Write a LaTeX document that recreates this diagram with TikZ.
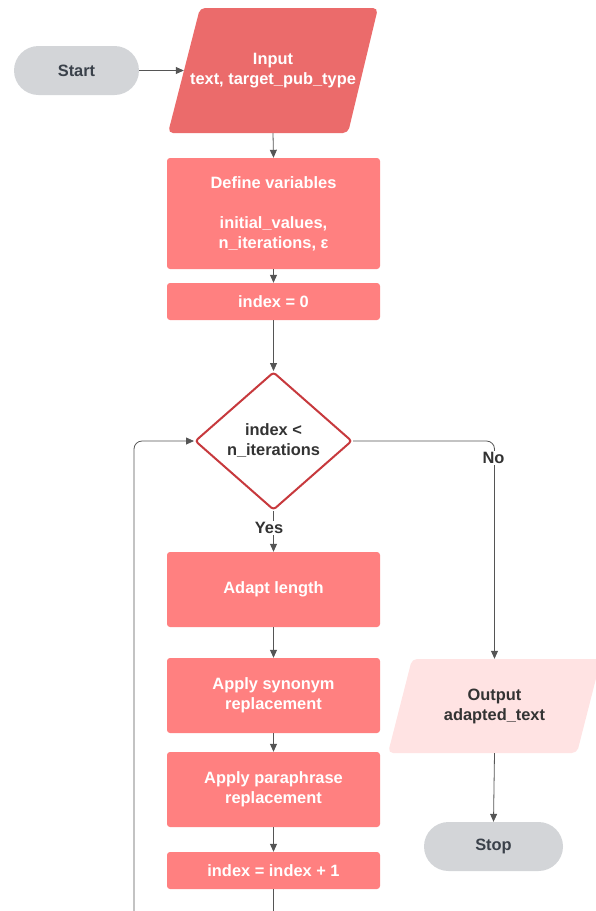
\documentclass[tikz,border=0pt]{standalone}
\usepackage{fontspec}
\setmainfont{Liberation Sans}
\usetikzlibrary{shapes.geometric,arrows.meta}
\definecolor{inred}{HTML}{EB6B6B}
\definecolor{boxred}{HTML}{FF8080}
\definecolor{outpink}{HTML}{FFE3E3}
\definecolor{termgrey}{HTML}{D3D5D8}
\definecolor{termtext}{HTML}{3A414A}
\definecolor{darktext}{HTML}{333333}
\definecolor{decred}{HTML}{C7393D}
\definecolor{linegrey}{HTML}{555555}
\tikzset{
  txt/.style={font=\bfseries\fontsize{16.4}{20}\selectfont, align=center},
  term/.style={txt, rectangle, rounded corners=24.5pt, fill=termgrey, text=termtext, minimum height=49pt, inner sep=0pt},
  procbox/.style={txt, rectangle, rounded corners=3pt, fill=boxred, text=white, minimum width=213pt, inner sep=0pt},
  iotext/.style={txt, rectangle, inner sep=0pt},
  decbox/.style={txt, diamond, draw=decred, line width=2pt, rounded corners=3pt, fill=white, text=darktext, minimum width=157pt, minimum height=138pt, inner sep=0pt},
  conn/.style={draw=linegrey, line width=0.8pt},
  arr/.style={conn, -{Triangle[length=8pt,width=7pt]}},
  lbl/.style={txt, fill=white, text=darktext, inner sep=1pt},
}
\begin{document}
\begin{tikzpicture}[x=1pt,y=-1pt]
\useasboundingbox (0,0) rectangle (596,911);
\begin{scope}
\clip (0,0) rectangle (596,911);
% parallelogram shapes
\fill[inred, rounded corners=5pt] (200,8) -- (378,8) -- (348,133) -- (168,133) -- cycle;
\fill[outpink, rounded corners=5pt] (412,659) -- (601,659) -- (577,753) -- (388,753) -- cycle;
% nodes
\node[term, minimum width=125pt] (start) at (76.5,70.5) {Start};
\node[iotext, text=white, minimum width=178pt, minimum height=125pt] (in) at (273,70.5) {Input\\text, target\_pub\_type};
\node[procbox, minimum height=111pt] (def) at (273.5,213.5) {Define variables\\[20pt]initial\_values,\\n\_iterations, ε};
\node[procbox, minimum height=37pt] (i0) at (273.5,301.5) {index = 0};
\node[decbox] (dec) at (273.5,441) {index <\\n\_iterations};
\node[procbox, minimum height=75pt] (adapt) at (273.5,589.5) {Adapt length};
\node[procbox, minimum height=75pt] (syn) at (273.5,695.5) {Apply synonym\\replacement};
\node[procbox, minimum height=75pt] (para) at (273.5,789.5) {Apply paraphrase\\replacement};
\node[procbox, minimum height=37pt] (inc) at (273.5,870.5) {index = index + 1};
\node[iotext, text=darktext, minimum width=189pt, minimum height=94pt] (out) at (494.5,706) {Output\\adapted\_text};
\node[term, minimum width=139pt] (stop) at (493.5,846.5) {Stop};
\coordinate (loopA) at (273.5,930);
\coordinate (loopB) at (134,930);
% connectors
\draw[arr] (start.east) -- (in.west);
\draw[arr] (in.south) -- (def.north);
\draw[arr] (def.south) -- (i0.north);
\draw[arr] (i0.south) -- (dec.north);
\draw[arr] (dec.south) -- (adapt.north);
\draw[arr] (adapt.south) -- (syn.north);
\draw[arr] (syn.south) -- (para.north);
\draw[arr] (para.south) -- (inc.north);
\draw[arr, rounded corners=8pt] (dec.east) -| (out.north);
\draw[arr] (out.south) -- (stop.north);
\draw[arr, rounded corners=8pt] (inc.south) -- (loopA) -- (loopB) |- (dec.west);
% labels
\node[lbl] (yes) at (269,528) {Yes};
\node[lbl] (no) at (493.5,458) {No};
\end{scope}
\end{tikzpicture}
\end{document}
